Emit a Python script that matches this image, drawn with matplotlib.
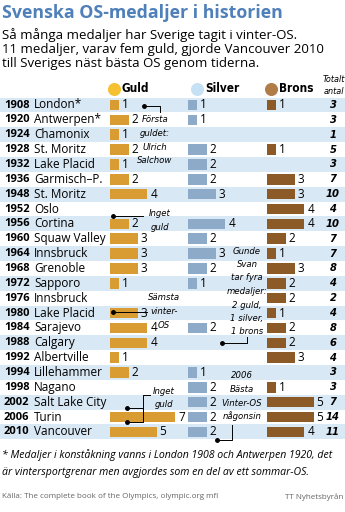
import numpy as np
import matplotlib
matplotlib.use("Agg")
from matplotlib import pyplot as plt
from matplotlib.patches import Rectangle

years = ["1908", "1920", "1924", "1928", "1932", "1936", "1948", "1952", "1956", "1960",
         "1964", "1968", "1972", "1976", "1980", "1984", "1988", "1992", "1994", "1998",
         "2002", "2006", "2010"]
cities = ["London*", "Antwerpen*", "Chamonix", "St. Moritz", "Lake Placid", "Garmisch–P.",
          "St. Moritz", "Oslo", "Cortina", "Squaw Valley", "Innsbruck", "Grenoble", "Sapporo",
          "Innsbruck", "Lake Placid", "Sarajevo", "Calgary", "Albertville", "Lillehammer",
          "Nagano", "Salt Lake City", "Turin", "Vancouver"]
guld = [1, 2, 1, 2, 1, 2, 4, 0, 2, 3, 3, 3, 1, 0, 3, 4, 4, 1, 2, 0, 0, 7, 5]
silver = [1, 1, 0, 2, 2, 2, 3, 0, 4, 2, 3, 2, 1, 0, 0, 2, 0, 0, 1, 2, 2, 2, 2]
brons = [1, 0, 0, 1, 0, 3, 3, 4, 4, 2, 1, 3, 2, 2, 1, 2, 2, 3, 0, 1, 5, 5, 4]
totalt = [3, 3, 1, 5, 3, 7, 10, 4, 10, 7, 7, 8, 4, 2, 4, 8, 6, 4, 3, 3, 7, 14, 11]

GOLD = "#d99c32"
SILV = "#8eaac9"
BRON = "#8c5a26"
SHADE = "#d9e8f5"
TITLE = "#4f80b9"
cond = dict(family="DejaVu Sans", fontstretch="condensed")

fig = plt.figure(figsize=(3.45, 5.12), dpi=100)
ax = fig.add_axes([0, 0, 1, 1])
ax.set_xlim(0, 345)
ax.set_ylim(512, 0)
ax.axis("off")

y0, step = 105, 14.86
rows = y0 + np.arange(len(years)) * step
unit = 9.3

# bakgrundsrader
for i, y in enumerate(rows):
    if i % 2 == 0:
        ax.add_patch(Rectangle((0, y - step / 2), 345, step, color=SHADE, lw=0, zorder=0))

# staplar
groups = [(guld, 110, GOLD), (silver, 188, SILV), (brons, 267, BRON)]
for vals, x0, col in groups:
    v = np.array(vals)
    ax.barh(rows, v * unit, left=x0, height=10.5, color=col, zorder=2)
    for y, n in zip(rows, vals):
        if n > 0:
            ax.text(x0 + n * unit + 3, y, str(n), fontsize=8.5, va="center", ha="left",
                    family="Open Sans", zorder=3)

for y, yr, c, t in zip(rows, years, cities, totalt):
    ax.text(4, y, yr, fontsize=8, fontweight="bold", va="center", family="Open Sans")
    ax.text(34, y, c, fontsize=8.5, va="center", family="Open Sans")
    ax.text(333, y, str(t), fontsize=8, fontweight="bold", style="italic", va="center",
            ha="center", **cond)

# rubrik
ax.text(2, 13, "Svenska OS-medaljer i historien", fontsize=12.8, fontweight="bold",
        color=TITLE, va="center", family="Open Sans")
sub = ["Så många medaljer har Sverige tagit i vinter-OS.",
       "11 medaljer, varav fem guld, gjorde Vancouver 2010",
       "till Sveriges näst bästa OS genom tiderna."]
for k, s in enumerate(sub):
    ax.text(2, 35 + k * 14, s, fontsize=9.5, va="center", family="Open Sans")

# legend
for cx, col, lab in [(114, "#f5c130", "Guld"), (197, "#c6e0f4", "Silver"), (271, "#b07c48", "Brons")]:
    ax.scatter([cx], [89], s=70, color=col, zorder=3)
    ax.text(cx + 8, 89, lab, fontsize=8.5, fontweight="bold", va="center", **cond)
ax.text(334, 80, "Totalt", fontsize=6.5, style="italic", ha="center", va="center", **cond)
ax.text(334, 92, "antal", fontsize=6.5, style="italic", ha="center", va="center", **cond)

# kommentarer
def note(x, y, lines, dy=13.5):
    for k, s in enumerate(lines):
        ax.text(x, y + k * dy, s, fontsize=6.8, style="italic", ha="center", va="center",
                zorder=4, **cond)

lk = dict(color="black", lw=0.7, zorder=4)
dot = dict(marker="o", ms=2.5, color="black", zorder=4)

note(155, 120, ["Första", "guldet:", "Ulrich", "Salchow"])
ax.plot([144, 160, 160], [106, 106, 112], **lk)
ax.plot([144], [106], **dot)

note(160, 214, ["Inget", "guld"])
ax.plot([113, 143], [216, 216], **lk)
ax.plot([113], [216], **dot)

note(164, 298, ["Sämsta", "vinter-", "OS"])
ax.plot([113, 147], [312, 312], **lk)
ax.plot([113], [312], **dot)

note(247, 251, ["Gunde", "Svan", "tar fyra", "medaljer:", "2 guld,", "1 silver,", "1 brons"])
ax.plot([222, 247, 247], [343, 343, 337], **lk)
ax.plot([222], [343], **dot)

note(242, 376, ["2006", "Bästa", "Vinter-OS", "någonsin"])
ax.plot([217, 232, 232], [440, 440, 425], **lk)
ax.plot([217], [440], **dot)

note(164, 392, ["Inget", "guld"], dy=12.5)
ax.plot([150, 143, 143, 127], [395, 395, 422, 422], **lk)
ax.plot([127, 143], [408, 408], **lk)
ax.plot([127, 127], [408, 422], **dot, ls="none")

# fotnot
ax.text(2, 455, "* Medaljer i konståkning vanns i London 1908 och Antwerpen 1920, det",
        fontsize=7.55, style="italic", va="center", family="Open Sans")
ax.text(2, 472, "är vintersportgrenar men avgjordes som en del av ett sommar-OS.",
        fontsize=7.55, style="italic", va="center", family="Open Sans")
ax.text(2, 497, "Källa: The complete book of the Olympics, olympic.org mfl", fontsize=5.8,
        color="#666666", va="center", family="Open Sans")
ax.text(343, 497, "TT Nyhetsbyrån", fontsize=5.8, color="#666666", va="center", ha="right",
        family="Open Sans")

fig.savefig("out.png", dpi=100)
